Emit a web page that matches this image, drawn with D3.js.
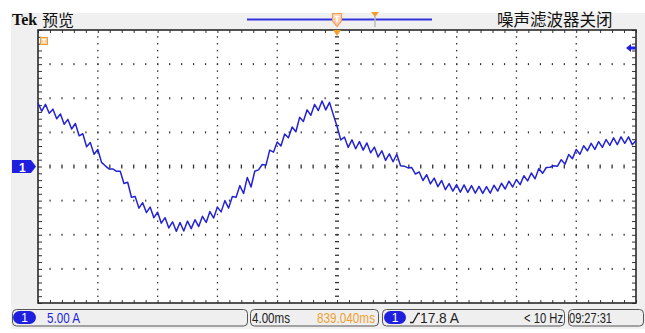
<!DOCTYPE html>
<html lang="zh">
<head>
<meta charset="UTF-8">
<title>Tek 预览</title>
<script src="https://d3js.org/d3.v7.min.js"></script>
<style>
  body { margin: 0; background: #fff; }
  svg { display: block; }
</style>
</head>
<body>
<svg id="scope" width="645" height="333"></svg>
<script>
// Kanal 1 (A), ein Wert alle 0.25 ms
const sampleStepMs = 0.25;
const current = [
  9.3, 8.1, 9.1, 7.8, 8.4, 7.0, 7.7, 6.2, 6.9, 5.5,
  6.3, 4.5, 4.8, 2.9, 3.5, 1.8, 2.5, 0.6, 0.1, -0.35,
  -0.35, -0.7, -0.7, -2.5, -2.3, -4.5, -4.4, -6.1, -5.3, -6.75,
  -5.95, -7.5, -6.7, -8.3, -7.5, -9.0, -8.1, -9.5, -8.2, -9.45,
  -8.0, -9.1, -7.8, -8.8, -7.3, -8.2, -6.6, -7.55, -5.95, -6.65,
  -5.0, -6.1, -4.4, -4.5, -2.8, -3.95, -1.6, -3.0, -0.7, -0.5,
  0.3, 0.2, 2.4, 2.1, 3.6, 3.0, 4.75, 4.2, 5.8, 5.1,
  7.2, 6.6, 8.3, 7.5, 9.1, 8.2, 9.6, 8.3, 9.4, 7.6,
  5.9, 3.9, 4.3, 2.8, 3.9, 2.6, 3.65, 2.4, 3.45, 2.0,
  2.85, 1.4, 2.3, 0.9, 1.85, 0.7, 1.8, 0.1, 0.05, -0.2,
  -0.15, -1.1, -0.8, -2.05, -1.2, -2.55, -1.7, -2.95, -2.05, -3.4,
  -2.5, -3.6, -2.65, -3.75, -2.7, -3.8, -2.8, -3.9, -2.9, -3.95,
  -2.95, -3.9, -2.75, -3.6, -2.45, -3.3, -2.15, -3.0, -1.9, -2.65,
  -1.35, -2.1, -0.95, -1.8, -0.3, -1.0, -0.15, -0.1, 0.1, 0.05,
  1.0, 0.35, 1.75, 1.15, 2.5, 1.8, 3.05, 2.3, 3.4, 2.5,
  3.65, 2.8, 3.95, 3.1, 4.2, 3.2, 4.35, 3.4, 4.35, 3.2,
  3.8
];

// Einstellungen des Oszilloskops
const timeDomainMs = [0, 40];      // 10 div x 4.00 ms
const currentDomainA = [-20, 20];  // 8 div x 5.00 A
const timePerDivMs = 4;
const ampsPerDiv = 5;

// Texte
const headerLeft = ["Tek", "预览"];
const headerRight = "噪声滤波器关闭";
const chScaleText = "5.00 A";
const timebaseText = "4.00ms";
const delayText = "839.040ms";
const triggerLevelText = "17.8 A";
const freqText = "< 10 Hz";
const clockText = "09:27:31";

const svg = d3.select("#scope");
const blue = "#1f1fe0";
const orange = "#f0a030";
const cjk = "'Noto Sans CJK SC', sans-serif";
const narrow = "'Liberation Sans Narrow', 'Liberation Sans', Arial, sans-serif";

const x = d3.scaleLinear().domain(timeDomainMs).range([38, 636]);
const y = d3.scaleLinear().domain(currentDomainA).range([303, 30]);

// Hintergrund
svg.append("rect").attr("x", 11).attr("y", 13).attr("width", 634).attr("height", 316).attr("fill", "#f0f0f0");
svg.append("rect")
  .attr("x", x(0)).attr("y", y(20))
  .attr("width", x(40) - x(0)).attr("height", y(-20) - y(20))
  .attr("fill", "#fff");

// Raster
const minorX = d3.range(timeDomainMs[0], timeDomainMs[1] + 0.001, timePerDivMs / 5);
const majorX = d3.range(timeDomainMs[0], timeDomainMs[1] + 0.001, timePerDivMs);
const minorY = d3.range(currentDomainA[0], currentDomainA[1] + 0.001, ampsPerDiv / 5);
const majorY = d3.range(currentDomainA[0], currentDomainA[1] + 0.001, ampsPerDiv);

const grid = svg.append("g").attr("fill", "#333");
majorY.filter(v => v > -20 && v < 20 && v !== 0).forEach(v => {
  grid.selectAll(null).data(minorX.slice(1, -1)).join("rect")
    .attr("x", d => x(d) - 0.5).attr("y", y(v) - 1)
    .attr("width", 1.2).attr("height", 2);
});
majorX.filter(v => v > 0 && v < 40 && v !== 20).forEach(v => {
  grid.selectAll(null).data(minorY.slice(1, -1)).join("rect")
    .attr("x", x(v) - 0.6).attr("y", d => y(d) - 0.6)
    .attr("width", 1.3).attr("height", 1.5);
});
// Mittellinien mit Strichen
grid.selectAll(null).data(minorX.slice(1, -1)).join("rect")
  .attr("x", d => x(d) - 0.6).attr("y", y(0) - 2)
  .attr("width", 1.3).attr("height", 4);
grid.selectAll(null).data(minorY.slice(1, -1)).join("rect")
  .attr("x", x(20) - 2).attr("y", d => y(d) - 0.6)
  .attr("width", 4).attr("height", 1.3);

// Randstriche
function edgeTicks(axis, transform, values, size) {
  const g = svg.append("g").attr("transform", transform)
    .call(axis.tickValues(values).tickSize(-size).tickFormat(""));
  g.select(".domain").remove();
  g.selectAll(".tick line").attr("stroke", "#333").attr("stroke-width", 1);
}
edgeTicks(d3.axisTop(x), `translate(0,${y(20)})`, minorX, 3);
edgeTicks(d3.axisBottom(x), `translate(0,${y(-20)})`, minorX, 3);
edgeTicks(d3.axisLeft(y), `translate(${x(0)},0)`, minorY, 4);
edgeTicks(d3.axisRight(y), `translate(${x(40)},0)`, minorY, 4);

svg.append("rect")
  .attr("x", x(0)).attr("y", y(20))
  .attr("width", x(40) - x(0)).attr("height", y(-20) - y(20))
  .attr("fill", "none").attr("stroke", "#2a2a2a").attr("stroke-width", 1.6);

// Kurve
const line = d3.line()
  .x((d, i) => x(i * sampleStepMs))
  .y(d => y(d));
svg.append("path")
  .datum(current)
  .attr("d", line)
  .attr("fill", "none")
  .attr("stroke", "#2323d6")
  .attr("stroke-width", 1.5)
  .attr("stroke-linejoin", "round");

// Marker
svg.append("path")
  .attr("d", `M12,${y(0) - 6.5}H31L36,${y(0)}L31,${y(0) + 6.5}H12Z`)
  .attr("fill", blue);
svg.append("text").attr("x", 19).attr("y", y(0) + 5)
  .attr("font-family", "Liberation Sans, Arial").attr("font-size", 12).attr("font-weight", "bold")
  .attr("fill", "#fff").text("1");

svg.append("path").attr("d", "M626,48L631,44V52Z").attr("fill", blue);
svg.append("rect").attr("x", 630).attr("y", 46.5).attr("width", 6).attr("height", 3).attr("fill", blue);

svg.append("rect").attr("x", 40.5).attr("y", 37.5).attr("width", 7).attr("height", 7)
  .attr("fill", "#fbd0a8").attr("stroke", orange);
svg.append("path").attr("d", "M42,39.5H46M44,39.5V43").attr("stroke", "#fff").attr("stroke-width", 1.2);

svg.append("path")
  .attr("d", `M${x(20) - 4},30L${x(20) + 4},30L${x(20)},36Z`)
  .attr("fill", orange);

// Kopfzeile
svg.append("text").attr("x", 12).attr("y", 25)
  .attr("font-family", "'Liberation Serif', serif").attr("font-weight", "bold")
  .attr("font-size", 16).attr("fill", "#111").text(headerLeft[0]);
svg.append("text").attr("x", 42).attr("y", 26)
  .attr("font-family", cjk).attr("font-size", 16).attr("fill", "#111").text(headerLeft[1]);
svg.append("text").attr("x", 497).attr("y", 26)
  .attr("font-family", cjk).attr("font-size", 16.5).attr("fill", "#111").text(headerRight);

svg.append("line").attr("x1", 247).attr("x2", 432).attr("y1", 19.5).attr("y2", 19.5)
  .attr("stroke", "#3333dd").attr("stroke-width", 1.8);
svg.append("line").attr("x1", 375).attr("x2", 375).attr("y1", 16).attr("y2", 27)
  .attr("stroke", "#bbb").attr("stroke-width", 1.5);
svg.append("path").attr("d", "M371,12H379L375,17Z").attr("fill", orange);
svg.append("path")
  .attr("d", `M${x(20) - 4.5},13.5H${x(20) + 4.5}V21L${x(20)},26.5L${x(20) - 4.5},21Z`)
  .attr("fill", "#f8d2b0").attr("stroke", "#f0a060").attr("stroke-width", 1.2);
svg.append("path").attr("d", `M${x(20) - 2.5},16.5H${x(20) + 2.5}M${x(20)},16.5V22`)
  .attr("stroke", "#fff").attr("stroke-width", 1.5);

// Statuszeile
const boxes = [[12, 248], [250, 379], [382, 565], [568, 644]];
svg.selectAll(null).data(boxes).join("rect")
  .attr("x", d => d[0] + 0.5).attr("y", 309.5)
  .attr("width", d => d[1] - d[0] - 1).attr("height", 16.5)
  .attr("rx", 4)
  .attr("fill", "#efefef").attr("stroke", "#555").attr("stroke-width", 1);

function pill(x0, x1) {
  svg.append("rect").attr("x", x0).attr("y", 311).attr("width", x1 - x0).attr("height", 13)
    .attr("rx", 6.5).attr("fill", blue);
  svg.append("text").attr("x", (x0 + x1) / 2).attr("y", 322)
    .attr("text-anchor", "middle").attr("font-family", "Liberation Sans, Arial")
    .attr("font-size", 12).attr("fill", "#fff").text("1");
}
pill(13, 36);
pill(384, 406);

function status(txt, x0, w, color, anchor) {
  svg.append("text").attr("x", x0).attr("y", 323)
    .attr("font-family", narrow).attr("font-size", 14)
    .attr("fill", color).attr("text-anchor", anchor || "start")
    .attr("textLength", w).attr("lengthAdjust", "spacingAndGlyphs")
    .text(txt);
}
status(chScaleText, 47, 33, blue);
status(timebaseText, 252, 38, "#222");
status(delayText, 317, 58, orange);
svg.append("path").attr("d", "M410,322.5H413L418,313.5H420").attr("fill", "none")
  .attr("stroke", "#222").attr("stroke-width", 1.3);
status(triggerLevelText, 420, 39, "#222");
status(freqText, 524, 39, "#222");
status(clockText, 569, 43, "#222");
</script>
</body>
</html>
